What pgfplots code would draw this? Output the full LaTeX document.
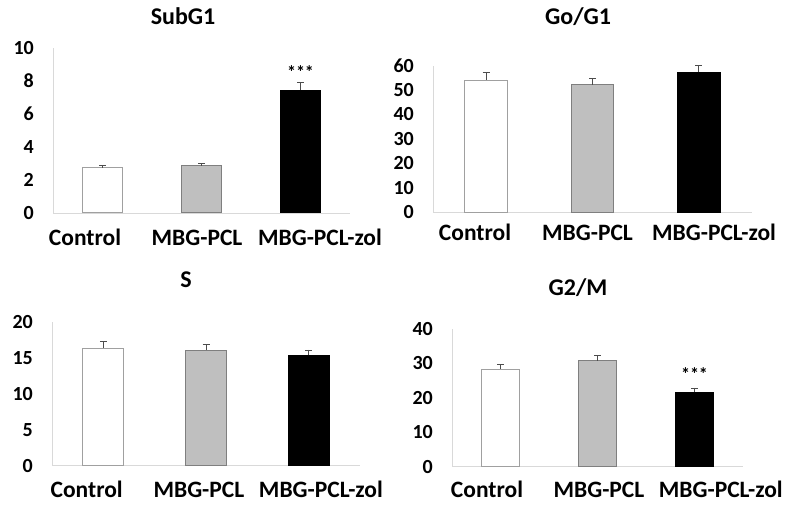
\documentclass[border=0pt]{standalone}
\usepackage{pgfplots}
\pgfplotsset{compat=1.18}
\usepackage{fontspec}
\setmainfont{Carlito}
\definecolor{axgray}{HTML}{D9D9D9}
\definecolor{barA}{HTML}{FFFFFF}
\definecolor{barAedge}{HTML}{A0A0A0}
\definecolor{barB}{HTML}{BFBFBF}
\definecolor{barBedge}{HTML}{7F7F7F}
\tikzset{stars/.style={font=\fontsize{18}{18}\selectfont\bfseries}}
\pgfplotsset{
  panel/.style={
    scale only axis, anchor=south west,
    axis x line=bottom, axis y line=left,
    axis line style={draw=axgray, line width=0.9pt, -},
    xmin=-0.5, xmax=2.5, ymin=0,
    major tick length=0pt,
    /pgf/number format/assume math mode=true,
    yticklabel style={font=\fontsize{20}{20}\selectfont\bfseries, anchor=east, inner sep=0pt, xshift=-19pt},
    xticklabel style={font=\fontsize{23.5}{24}\selectfont\bfseries, anchor=base, inner sep=0pt},
    xticklabels={Control, MBG-PCL, MBG-PCL-zol},
    title style={font=\fontsize{24}{25}\selectfont\bfseries, anchor=center, inner sep=0pt},
    clip=false,
  },
  barbase/.style={ybar, bar width=0.4, bar shift=0pt, line width=1pt,
    error bars/y dir=plus, error bars/y explicit,
    error bars/error bar style={draw=black!70, line width=0.7pt},
    error bars/error mark options={rotate=90, mark size=3.5pt, draw=black!70, line width=0.7pt}},
  barC/.style={barbase, fill=barA, draw=barAedge},
  barM/.style={barbase, fill=barB, draw=barBedge},
  barZ/.style={barbase, fill=black, draw=black},
}
\begin{document}
\begin{tikzpicture}[x=1pt,y=1pt]
\useasboundingbox (0,0) rectangle (800,511);
% SubG1
\begin{axis}[panel, at={(53pt,298pt)}, width=297pt, height=165pt,
  ymax=10, ytick={0,2,...,10},
  xtick={-0.177,0.955,2.197},
  xticklabel style={yshift=-32.5pt},
  title={SubG1}, title style={at={(rel axis cs:0.438,1.158)}}]
\addplot[barC] coordinates {(0,2.75) +- (0,0.12)};
\addplot[barM] coordinates {(1,2.85) +- (0,0.17)};
\addplot[barZ] coordinates {(2,7.45) +- (0,0.45)};
\node[stars] at (axis cs:2,8.55) {***};
\end{axis}
% Go/G1
\begin{axis}[panel, at={(433pt,298.7pt)}, width=319pt, height=146.7pt,
  ymax=60, ytick={0,10,...,60},
  xtick={-0.105,0.953,2.143},
  xticklabel style={yshift=-28.5pt},
  title={Go/G1}, title style={at={(rel axis cs:0.455,1.291)}}]
\addplot[barC] coordinates {(0,54) +- (0,3.2)};
\addplot[barM] coordinates {(1,52.2) +- (0,2.7)};
\addplot[barZ] coordinates {(2,57.2) +- (0,3)};
\end{axis}
% S
\begin{axis}[panel, at={(52pt,45.3pt)}, width=308pt, height=143.4pt,
  ymax=20, ytick={0,5,...,20},
  xtick={-0.162,0.931,2.119},
  xticklabel style={yshift=-31.5pt},
  title={S}, title style={at={(rel axis cs:0.435,1.253)}}]
\addplot[barC] coordinates {(0,16.4) +- (0,0.9)};
\addplot[barM] coordinates {(1,16.1) +- (0,0.85)};
\addplot[barZ] coordinates {(2,15.4) +- (0,0.75)};
\end{axis}
% G2/M
\begin{axis}[panel, at={(452pt,44.3pt)}, width=291pt, height=137.7pt,
  ymax=40, ytick={0,10,...,40},
  xtick={-0.139,1.015,2.271},
  xticklabel style={yshift=-30.5pt},
  title={G2/M}, title style={at={(rel axis cs:0.433,1.254)}}]
\addplot[barC] coordinates {(0,28.3) +- (0,1.5)};
\addplot[barM] coordinates {(1,30.8) +- (0,1.5)};
\addplot[barZ] coordinates {(2,21.6) +- (0,1.3)};
\node[stars] at (axis cs:2,26.9) {***};
\end{axis}
\end{tikzpicture}
\end{document}
